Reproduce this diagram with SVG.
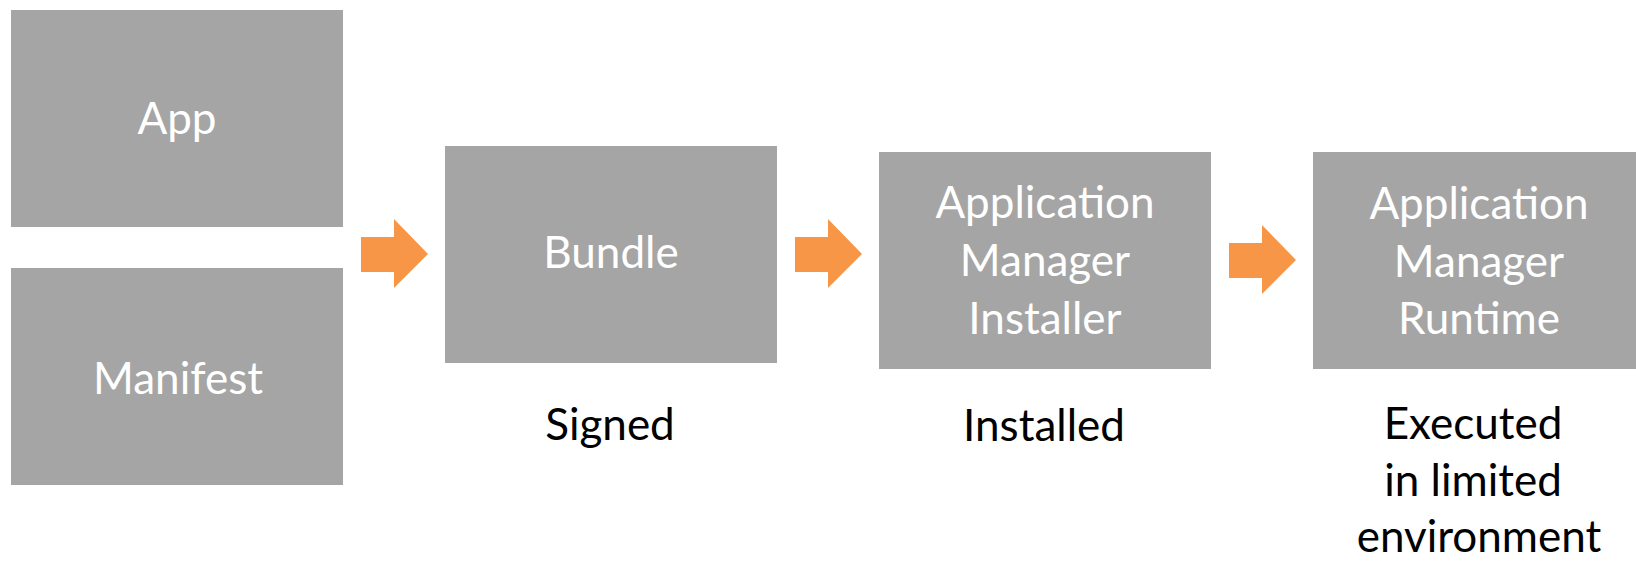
<svg xmlns="http://www.w3.org/2000/svg" xmlns:xlink="http://www.w3.org/1999/xlink" width="1636" height="561" viewBox="0 0 1636 561">
  <style>
    .box { fill: #A5A5A5; }
    .in { fill: #FFFFFF; font-family: Lato, "Open Sans", "Liberation Sans", sans-serif; font-size: 44px; text-anchor: middle; }
    .out { fill: #000000; font-family: Lato, "Open Sans", "Liberation Sans", sans-serif; font-size: 44px; text-anchor: middle; }
    .flow { fill: #F79646; }
  </style>
  <defs>
    <!-- block arrow: shaft 35px tall, head 69px tall -->
    <path id="blockArrow" d="M0,18 H33 V0 L67,35 L33,69 V53 H0 Z"/>
  </defs>
  <rect width="1636" height="561" fill="#FFFFFF"/>

  <g id="connectors">
    <use xlink:href="#blockArrow" class="flow" transform="translate(361,219)"/>
    <use xlink:href="#blockArrow" class="flow" transform="translate(795,219)"/>
    <use xlink:href="#blockArrow" class="flow" transform="translate(1229,225)"/>
  </g>

  <g id="app">
    <rect class="box" x="11" y="10" width="332" height="217"/>
    <text class="in" x="177" y="134">App</text>
  </g>

  <g id="manifest">
    <rect class="box" x="11" y="268" width="332" height="217"/>
    <text class="in" x="178" y="394">Manifest</text>
  </g>

  <g id="bundle">
    <rect class="box" x="445" y="146" width="332" height="217"/>
    <text class="in" x="611" y="268">Bundle</text>
    <text class="out" x="610" y="440">Signed</text>
  </g>

  <g id="installer">
    <rect class="box" x="879" y="152" width="332" height="217"/>
    <text class="in" x="1045" y="218">Application</text>
    <text class="in" x="1045" y="276">Manager</text>
    <text class="in" x="1045" y="334">Installer</text>
    <text class="out" x="1044" y="441">Installed</text>
  </g>

  <g id="runtime">
    <rect class="box" x="1313" y="152" width="332" height="217"/>
    <text class="in" x="1479" y="219">Application</text>
    <text class="in" x="1479" y="277">Manager</text>
    <text class="in" x="1479" y="334">Runtime</text>
    <text class="out" x="1473" y="439">Executed</text>
    <text class="out" x="1473" y="496">in limited</text>
    <text class="out" x="1479" y="552">environment</text>
  </g>
</svg>
